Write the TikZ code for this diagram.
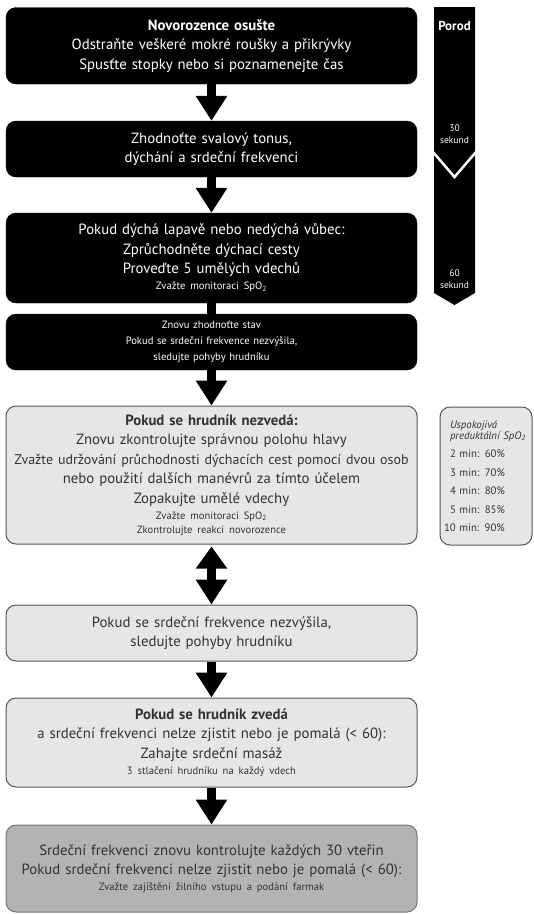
\documentclass[tikz,border=0pt]{standalone}
\usepackage{fontspec}
\setmainfont{PT Sans}[WordSpace=0.85]
\usetikzlibrary{arrows.meta,positioning}

\definecolor{boxgrey}{HTML}{E6E6E6}
\definecolor{midgrey}{HTML}{B3B3B3}
\definecolor{edgegrey}{HTML}{555555}
\definecolor{textgrey}{HTML}{333333}

\newcommand{\bigtxt}{\fontsize{14.8}{19.5}\selectfont}
\newcommand{\smalltxt}{\fontsize{10.6}{16}\selectfont}

\begin{document}
\begin{tikzpicture}[x=1pt, y=-1pt,
    box/.style={rectangle, rounded corners=10pt, text width=409pt, inner sep=1pt, align=center, font=\bigtxt},
    darkbox/.style={box, fill=black, draw=black, text=white},
    lightbox/.style={box, fill=boxgrey, draw=edgegrey, line width=1pt, text=textgrey},
    timetxt/.style={text=white, align=center, font=\fontsize{9.5}{12}\selectfont, inner sep=0pt},
    flowarrow/.style={line width=9pt, -{Triangle[width=30pt,length=25pt]}}
]
    \useasboundingbox (0,0) rectangle (534,914);

    % Birth
    \node[darkbox, minimum height=76.5pt] (dry) at (211.5,45.75)
        {\textbf{Novorozence osušte}\\
         Odstraňte veškeré mokré roušky a přikrývky\\
         Spusťte stopky nebo si poznamenejte čas};

    % Assess
    \node[darkbox, minimum height=56pt] (assess) at (211.5,149)
        {Zhodnoťte svalový tonus,\\ dýchání a srdeční frekvenci};

    % Airway and inflation breaths
    \node[darkbox, minimum height=90pt] (airway) at (211.5,258)
        {Pokud dýchá lapavě nebo nedýchá vůbec:\\
         Zprůchodněte dýchací cesty\\
         Proveďte 5 umělých vdechů\par
         {\smalltxt Zvažte monitoraci SpO\textsubscript{2}\par}};

    % Reassess
    \node[darkbox, minimum height=56pt, font=\smalltxt] (reassess) at (211.5,342)
        {Znovu zhodnoťte stav\\
         Pokud se srdeční frekvence nezvýšila,\\
         sledujte pohyby hrudníku};

    % Chest not moving
    \node[lightbox, minimum height=138pt] (nochest) at (211.5,475)
        {\textbf{Pokud se hrudník nezvedá:}\\
         Znovu zkontrolujte správnou polohu hlavy\\
         \makebox[\hsize][c]{\fontsize{14}{19.5}\selectfont Zvažte udržování průchodnosti dýchacích cest pomocí dvou osob}\\
         nebo použití dalších manévrů za tímto účelem\\
         Zopakujte umělé vdechy\par
         {\smalltxt Zvažte monitoraci SpO\textsubscript{2}\\[-2pt]
          Zkontrolujte reakci novorozence\par}};

    % Heart rate check
    \node[lightbox, minimum height=56pt] (hrcheck) at (211.5,633)
        {Pokud se srdeční frekvence nezvýšila,\\ sledujte pohyby hrudníku};

    % Chest moving
    \node[lightbox, minimum height=89pt] (chest) at (211.5,742.5)
        {\textbf{Pokud se hrudník zvedá}\\
         a srdeční frekvenci nelze zjistit nebo je pomalá (< 60):\\
         Zahajte srdeční masáž\par
         {\smalltxt 3 stlačení hrudníku na každý vdech\par}};

    % Drugs
    \node[lightbox, fill=midgrey, draw=edgegrey!80, minimum height=87pt] (drugs) at (211.5,868.5)
        {Srdeční frekvenci znovu kontrolujte každých 30 vteřin\\
         Pokud srdeční frekvenci nelze zjistit nebo je pomalá (< 60):\par
         {\smalltxt Zvažte zajištění žilního vstupu a podání farmak\par}};

    % Time bar
    \fill[black] (434,7) -- (475,7) -- (475,293) -- (454.5,305) -- (434,293) -- cycle;
    \draw[white, line width=2.5pt] (433,152) -- (454.5,177) -- (476,152);
    \node[text=white, font=\fontsize{13}{15}\selectfont\bfseries, inner sep=0pt] (birth) at (454.5,26) {Porod};
    \node[timetxt] (sec30) at (454.5,134) {30\\sekund};
    \node[timetxt] (sec60) at (454.5,279) {60\\sekund};

    % Acceptable SpO2
    \node[rectangle, rounded corners=10pt, fill=boxgrey, draw=edgegrey, line width=1pt,
          minimum width=92pt, minimum height=138pt, text width=84pt, inner sep=0pt,
          align=left, text=textgrey, font=\fontsize{10.8}{11}\selectfont] (spo) at (486,476)
        {\leftskip=6pt
         \textit{Uspokojivá}\\
         \mbox{\textit{preduktální SpO\textsubscript{2}}}\\[7.5pt]
         2 min: 60\%\\[7.5pt]
         3 min: 70\%\\[7.5pt]
         4 min: 80\%\\[7.5pt]
         5 min: 85\%\\[7.5pt]
         10 min: 90\%};

    % Arrows
    \draw[flowarrow] (dry) -- (assess);
    \draw[flowarrow] (assess) -- (airway);
    \draw[line width=9pt] (airway) -- (reassess);
    \draw[flowarrow] (reassess) -- (nochest);
    \draw[line width=9pt, {Triangle[width=30pt,length=22pt]}-{Triangle[width=30pt,length=25pt]}]
        ([yshift=-2pt]nochest.south) -- (hrcheck.north);
    \draw[flowarrow] (hrcheck) -- (chest);
    \draw[flowarrow] (chest) -- (drugs);
\end{tikzpicture}
\end{document}
